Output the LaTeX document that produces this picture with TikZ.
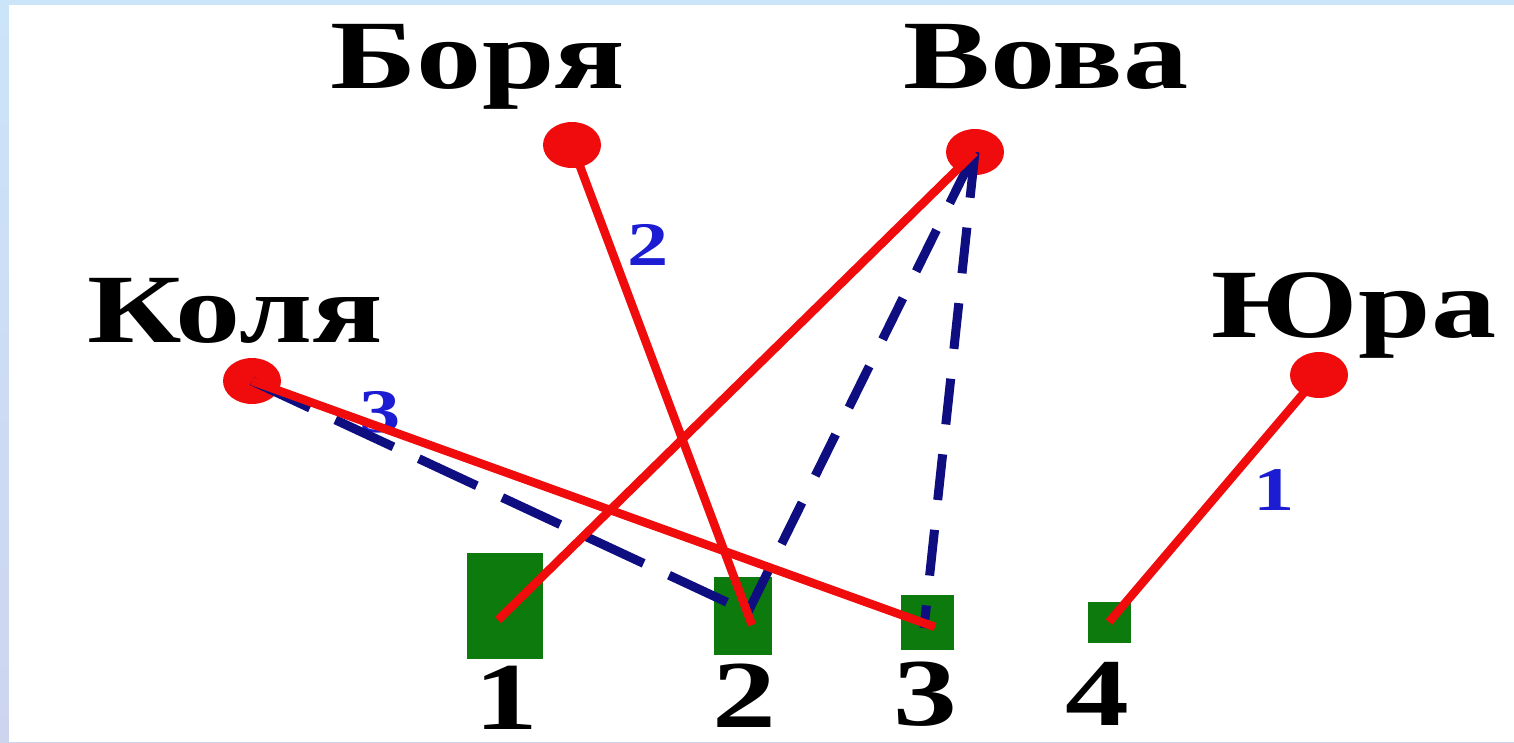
\documentclass[tikz,border=0pt]{standalone}
\usepackage{fontspec}
\setmainfont{Liberation Serif}
\newfontfamily\kidfont[FakeStretch=1.33]{Liberation Serif Bold}
\usetikzlibrary{shapes.geometric,calc}
\definecolor{ptred}  {RGB}{240, 12, 12}
\definecolor{ptgreen}{RGB}{ 12,122, 12}
\definecolor{ptnavy} {RGB}{ 14, 14,128}
\definecolor{ptblue} {RGB}{ 28, 28,210}
\definecolor{ptsky}  {RGB}{204,228,248}
\definecolor{ptskyb} {RGB}{205,213,238}
\tikzset{
  kid/.style={font=\kidfont\fontsize{98}{98}\selectfont,text=black,
              anchor=base,inner sep=0pt},
  num/.style={kid,font=\kidfont\fontsize{96}{96}\selectfont},
  tag/.style={kid,font=\kidfont\fontsize{62}{62}\selectfont,text=ptblue},
  pdot/.style={ellipse,fill=ptred,inner sep=0pt,
               minimum width=58pt,minimum height=46pt},
  seat/.style={rectangle,fill=ptgreen,inner sep=0pt},
  link/.style={draw=ptred,line width=8.5pt},
  guess/.style={draw=ptnavy,line width=9pt,dash pattern=on 46pt off 30pt},
  guesslong/.style={guess,dash pattern=on 64pt off 28pt},
}

\begin{document}
\begin{tikzpicture}[x=1pt,y=-1pt]
\useasboundingbox (0,0) rectangle (1514,742);
\shade[top color=ptsky,bottom color=ptskyb] (0,0) rectangle (1514,742);
\fill[white] (9,5) rectangle (1514,742);

% seats
\node[seat,minimum width=76pt,minimum height=106pt] (s1) at (505,606) {};
\node[seat,minimum width=58pt,minimum height=78pt]  (s2) at (743,616) {};
\node[seat,minimum width=53pt,minimum height=55pt]  (s3) at (927,622) {};
\node[seat,minimum width=43pt,minimum height=41pt]  (s4) at (1109,622) {};
\node[num] (n1) at (506,729) {1};
\node[num] (n2) at (744,727) {2};
\node[num] (n3) at (925,725) {3};
\node[num] (n4) at (1097,725) {4};

% kids
\node[kid] (borya) at (478,88)  {Боря};
\node[kid] (vova)  at (1046,88) {Вова};
\node[kid] (kolya) at (235,342) {Коля};
\node[kid] (yura)  at (1354,337) {Юра};
\node[pdot] (pb) at (572,145) {};
\node[pdot] (pv) at (975,152) {};
\node[pdot] (pk) at (252,381) {};
\node[pdot] (py) at (1319,375) {};

% order
\node[tag] (t2) at (648,265) {2};
\node[tag] (t3) at (380,432) {3};
\node[tag] (t1) at (1274,510) {1};

\coordinate (v2) at ($(s2)+(5,-4)$);
\coordinate (v3) at ($(s3)+(-3,6)$);
\draw[guesslong] (pk.center) -- (v2);
\draw[guess] (v2) -- (pv.center);
\draw[guess] (pv.center) -- (v3);

\draw[link] (pv.center) -- ($(s1)+(-7,14)$);
\draw[link] (pb.center) -- ($(s2)+(9,9)$);
\draw[link] (pk.center) -- ($(s3)+(8,5)$);
\draw[link] (py.center) -- (s4.center);
\end{tikzpicture}
\end{document}
